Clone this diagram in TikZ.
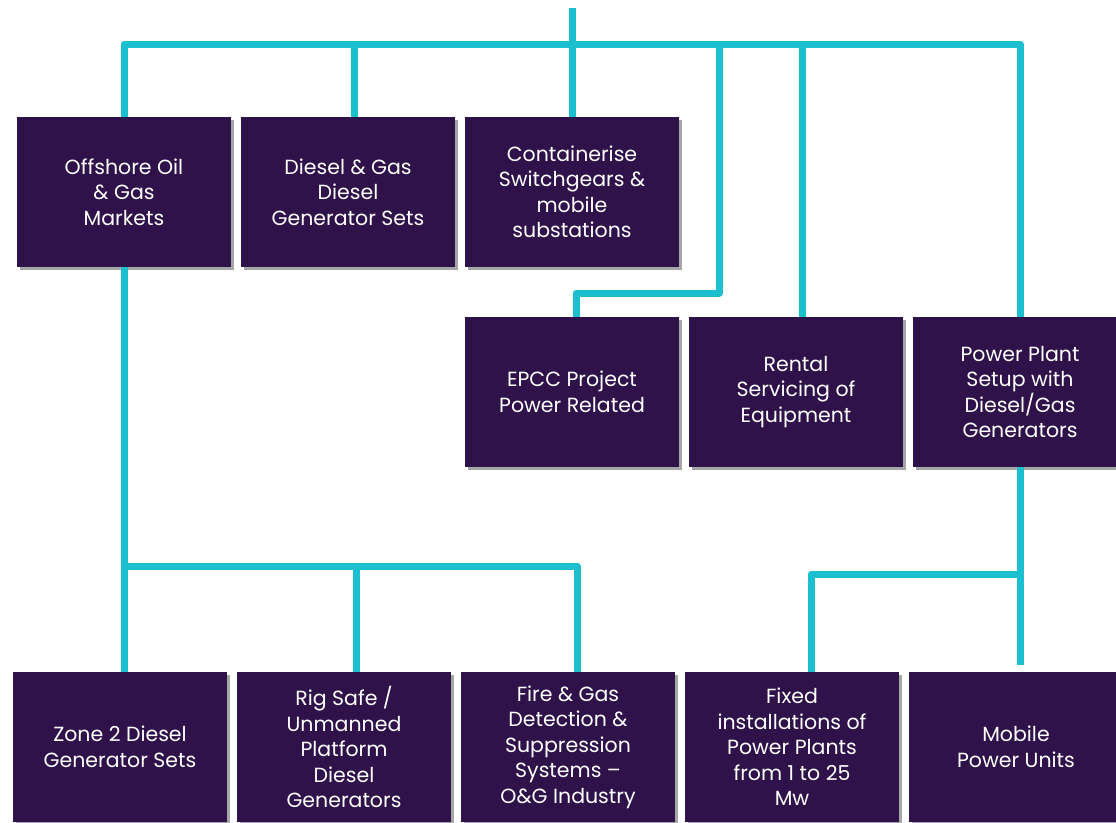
\documentclass[tikz,border=0pt]{standalone}
\usepackage{fontspec}
\setmainfont{Poppins}
\usetikzlibrary{shadows}
\definecolor{boxplum}{HTML}{2E1249}
\definecolor{linkcyan}{HTML}{1CBFCE}
\begin{document}
\begin{tikzpicture}[x=1pt, y=-1pt, node distance=224pt,
  box/.style={fill=boxplum, text=white, minimum width=214pt, minimum height=150pt,
    align=center, inner sep=0pt, font=\fontsize{20.5}{25.5}\selectfont,
    drop shadow={shadow xshift=3pt, shadow yshift=-3pt, fill=black, opacity=0.35}},
  link/.style={draw=linkcyan, line width=7pt, line join=round}]
  \useasboundingbox (0,0) rectangle (1116,822);
  \coordinate(bus) at (0,44);
  \coordinate(lbus) at (0,566);
  \coordinate(rbus) at (0,574);
  \coordinate(jog) at (719,293);
  % top row
  \node(off)[box] at (124,192) {Offshore Oil\\\& Gas\\Markets};
  \node(dgs)[box, right of=off] {Diesel \& Gas\\Diesel\\Generator Sets};
  \node(cont)[box, right of=dgs] {Containerise\\Switchgears \&\\mobile\\substations};
  % middle row
  \node(epcc)[box] at (572,392) {EPCC Project\\Power Related};
  \node(rent)[box, right of=epcc] {Rental\\Servicing of\\Equipment};
  \node(ppl)[box, right of=rent] {Power Plant\\Setup with\\Diesel/Gas\\Generators};
  % bottom row
  \node(zone)[box] at (120,747) {Zone 2 Diesel\\Generator Sets};
  \node(rig)[box, right of=zone] {Rig Safe /\\Unmanned\\Platform\\Diesel\\Generators};
  \node(fire)[box, right of=rig] {Fire \& Gas\\Detection \&\\Suppression\\Systems --\\O\&G Industry};
  \node(fixed)[box, right of=fire] {Fixed\\installations of\\Power Plants\\from 1 to 25\\Mw};
  \node(mob)[box, right of=fixed] {Mobile\\Power Units};
  \coordinate(feed) at (cont.north |- 0,8);
  % links
  \draw[link] (feed) -- (cont.north);
  \draw[link] (off.north) |- (bus -| ppl.north) -- (ppl.north);
  \draw[link] ([xshift=6pt]dgs.north) -- ([xshift=6pt]dgs.north |- bus);
  \draw[link] ([xshift=6pt]rent.north) -- ([xshift=6pt]rent.north |- bus);
  \draw[link] (jog |- bus) -- (jog) -| ([xshift=4pt]epcc.north);
  \draw[link] (off.south) -- (off.south |- zone.north);
  \draw[link] (off.south |- lbus) -| ([xshift=9pt]fire.north);
  \draw[link] ([xshift=12pt]rig.north) -- ([xshift=12pt]rig.north |- lbus);
  \draw[link, shorten >=7pt] (ppl.south) -- (ppl.south |- mob.north);
  \draw[link] (ppl.south |- rbus) -| ([xshift=19pt]fixed.north);
\end{tikzpicture}
\end{document}
